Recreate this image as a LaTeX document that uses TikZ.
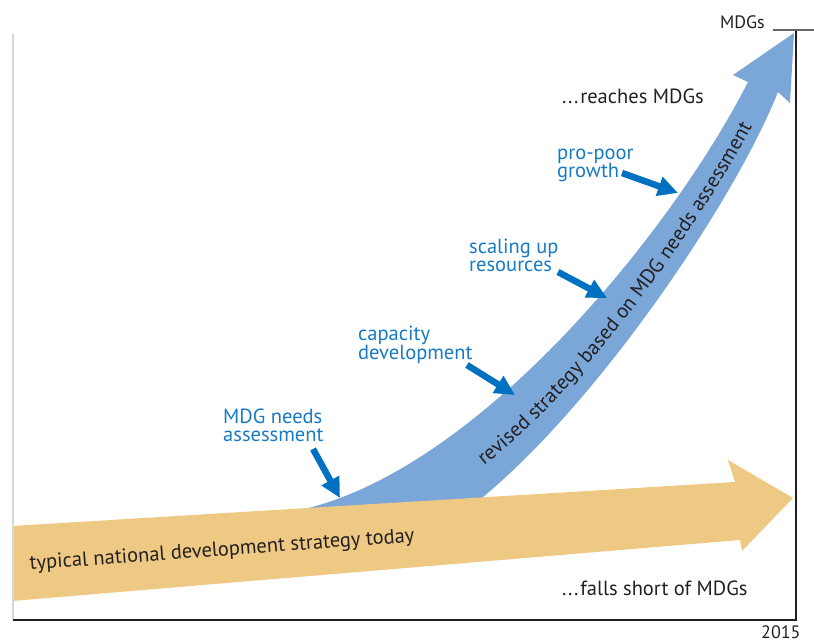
\documentclass[tikz,border=0pt]{standalone}
\usepackage{fontspec}
\setmainfont{PT Sans}
\usetikzlibrary{arrows.meta,decorations.text}
\definecolor{tanfill}{RGB}{238,201,132}
\definecolor{bandblue}{RGB}{122,166,216}
\definecolor{arrblue}{RGB}{0,112,192}
\definecolor{lblblue}{RGB}{22,122,196}
\definecolor{ink}{RGB}{35,31,32}
\definecolor{axisgray}{RGB}{215,215,215}
\newcommand\lbltwo[2]{\vtop{\hbox{#1}\hbox{#2}}}
\newcommand\wideldots{.\kern1.6pt.\kern1.6pt.\kern1.8pt}
\begin{document}
\begin{tikzpicture}[x=1pt,y=-1pt,
  lbl/.style={font=\fontsize{20.5}{18.5}\selectfont, text=lblblue, inner sep=0, anchor=base west},
  txt/.style={font=\fontsize{20.5}{22}\selectfont, text=ink, inner sep=0},
  smalltxt/.style={font=\fontsize{18}{20}\selectfont, text=ink, inner sep=0},
  pointer/.style={draw=arrblue, line width=6.5pt, -{Triangle[length=20pt,width=19pt]}},
]
\useasboundingbox (0,0) rectangle (814,642);

% revised strategy band (blue)
\fill[bandblue] (290,512) .. controls (470,480) and (670,235) .. (748,82)
  -- (733,75) -- (794,33) -- (790,103) -- (778,92)
  .. controls (735,200) and (600,400) .. (483,497) -- (485,515) -- (290,515) -- cycle;

% typical strategy band (tan)
\fill[tanfill] (12,526) -- (735,482) -- (728,460) -- (793,498) -- (742,551) -- (740,540) -- (12,601) -- cycle;

% text along the blue band
\path[decorate, decoration={text along path, text align=center,
  text={|\fontsize{20.5}{22}\selectfont\color{ink}|revised strategy based on MDG needs assessment}}]
  (474,473) .. controls (575,400) and (692,240) .. (758,116);

% axes
\draw[axisgray, line width=2pt] (13,34) -- (13,620);
\draw[ink, line width=1.3pt] (13,620) -- (796,620) -- (796,30);
\draw[black!60, line width=1.3pt] (773,30) -- (814,30);

% texts
\node[smalltxt, anchor=base east] (mdgs) at (765,29) {MDGs};
\node[txt, anchor=base west] (reach) at (562,103) {\wideldots reaches MDGs};
\node[txt, anchor=base west] (short) at (562,595) {\wideldots falls short of MDGs};
\node[smalltxt, anchor=base west] (year) at (761,638) {2015};
\node[txt, anchor=base west, rotate=4.2] (typ) at (30,570) {typical national development strategy today};

% blue labels
\node[lbl] (pp) at (557,159) {\lbltwo{pro-poor}{growth}};
\node[lbl] (su) at (469,253) {\lbltwo{scaling up}{resources}};
\node[lbl] (cd) at (358,340) {\lbltwo{capacity}{development}};
\node[lbl] (na) at (223,423) {\lbltwo{MDG needs}{assessment}};

% pointer coordinates
\coordinate (pp-t) at (622,173); \coordinate (pp-h) at (678,193);
\coordinate (su-t) at (558,272); \coordinate (su-h) at (607,298);
\coordinate (cd-t) at (467,365); \coordinate (cd-h) at (515,395);
\coordinate (na-t) at (313,449); \coordinate (na-h) at (340,498);

\draw[pointer] (pp-t) -- (pp-h);
\draw[pointer] (su-t) -- (su-h);
\draw[pointer] (cd-t) -- (cd-h);
\draw[pointer] (na-t) -- (na-h);
\end{tikzpicture}
\end{document}
